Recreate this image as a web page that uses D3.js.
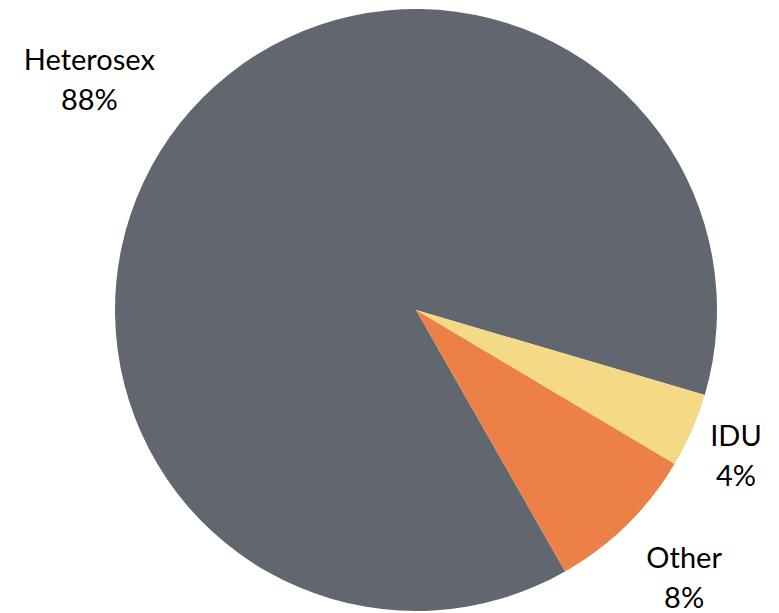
<!DOCTYPE html>
<html>
<head>
<meta charset="utf-8">
<script src="https://cdn.jsdelivr.net/npm/d3@7"></script>
<style>
  body { margin: 0; background: #fff; }
  text { font-family: Lato, "Liberation Sans", sans-serif; fill: #000; }
</style>
</head>
<body>
<div id="chart"></div>
<script>
// slice data (clockwise from the start angle)
var categories = ["Heterosex", "IDU", "Other"];
var shares = [87.8, 4.0, 8.2];
var colors = ["#62676f", "#f4da86", "#ec8047"];

var width = 779, height = 613;
var cx = 416, cy = 310, radius = 301;
var startDeg = 150.3;

// label placement: polar position of each label block (degrees clockwise from 12 o'clock, px)
var labelAngle = [304, 116, 136];
var labelRadius = [394, 356, 386];

var data = categories.map(function (c, i) {
    return {name: c, value: shares[i], color: colors[i], la: labelAngle[i], lr: labelRadius[i]};
});

var svg = d3.select("#chart")
    .append("svg")
    .attr("width", width)
    .attr("height", height);

var g = svg.append("g")
    .attr("transform", "translate(" + cx + "," + cy + ")");

var pie = d3.pie()
    .sort(null)
    .value(function (d) { return d.value; })
    .startAngle(startDeg * Math.PI / 180)
    .endAngle(startDeg * Math.PI / 180 + 2 * Math.PI);

var arc = d3.arc().innerRadius(0).outerRadius(radius);

g.selectAll("path")
    .data(pie(data))
    .enter()
    .append("path")
    .attr("d", arc)
    .attr("fill", function (d) { return d.data.color; });

// labels
var labels = g.selectAll("text.lbl")
    .data(data)
    .enter()
    .append("text")
    .attr("class", "lbl")
    .attr("text-anchor", "middle")
    .style("font-size", "29px")
    .attr("transform", function (d) {
        var a = d.la * Math.PI / 180;
        return "translate(" + (Math.sin(a) * d.lr) + "," + (-Math.cos(a) * d.lr) + ")";
    });

labels.append("tspan")
    .attr("x", 0)
    .attr("y", -20)
    .text(function (d) { return d.name; });

labels.append("tspan")
    .attr("x", 0)
    .attr("y", 20)
    .text(function (d) { return Math.round(d.value) + "%"; });
</script>
</body>
</html>
